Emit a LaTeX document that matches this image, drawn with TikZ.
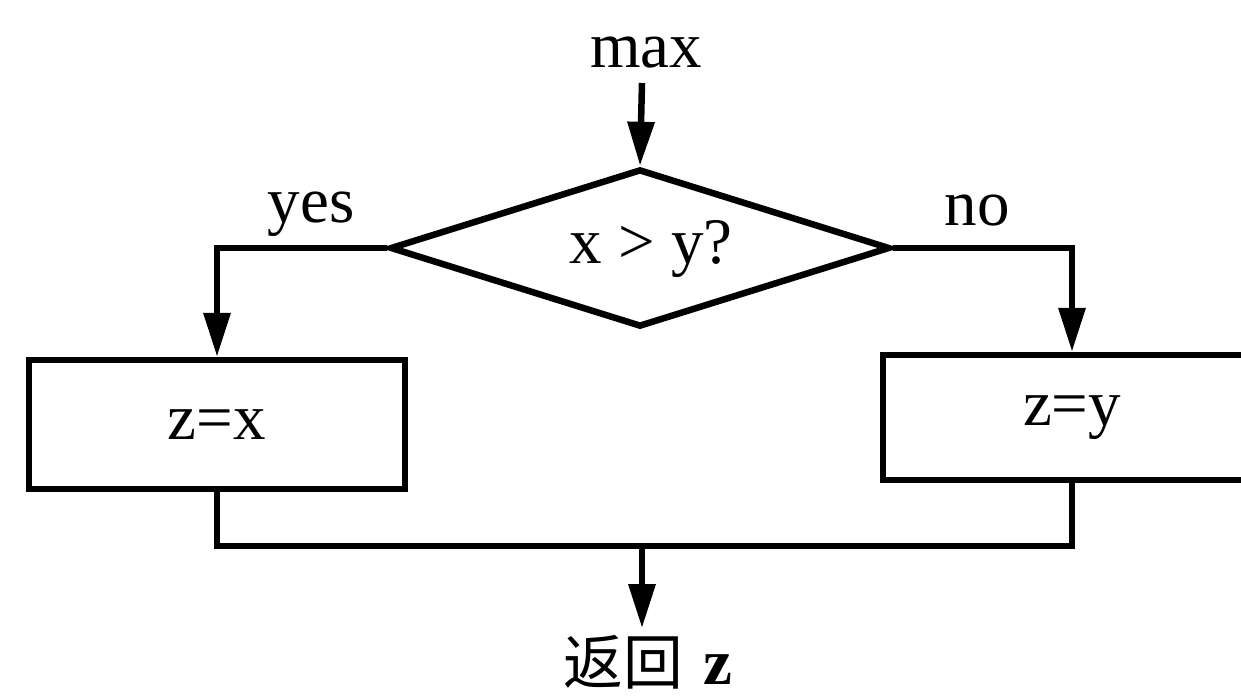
\documentclass[tikz,border=0pt]{standalone}
\usepackage{fontspec}
\setmainfont{Liberation Serif}
\newfontfamily\cjk{Noto Sans CJK SC}
\usetikzlibrary{arrows.meta,shapes.geometric,calc}
\begin{document}
\begin{tikzpicture}[x=0.02cm,y=-0.02cm,
  line width=0.13cm,
  arr/.style={-{Triangle[length=0.88cm,width=0.52cm]}},
  lbl/.style={font=\fontsize{37}{40}\selectfont, inner sep=0pt, anchor=base},
  proc/.style={draw, rectangle, inner sep=0pt, font=\fontsize{37}{40}\selectfont},
  decision/.style={draw, diamond, inner sep=0pt, minimum width=10cm, minimum height=3.16cm}
]
\useasboundingbox (0,0) rectangle (1241,698);
% shapes
\node[decision] (d) at (640,248) {};
\node[proc, minimum width=7.52cm, minimum height=2.58cm] (L) at (217,424.5) {\raisebox{-0.1cm}{z=x}};
\node[proc, minimum width=7.56cm, minimum height=2.5cm] (R) at (1072,417.5) {\raisebox{-0.14cm}{z=y}};
% texts
\node[lbl] (max) at (646,67) {max};
\node[lbl] (yes) at (311,222) {yes};
\node[lbl] (no) at (977,225) {no};
\node[lbl] (q) at (651,263) {x > y?};
\node[lbl] (ret) at (648,684) {{\cjk\fontsize{34}{36}\selectfont 返回}\hspace{12pt}\textbf{z}};
% coordinates
\coordinate (top) at (642,83);
\coordinate (m) at (642,546);
\coordinate (e) at (642,628);
% connectors
\draw[arr] (top) -- (d.north);
\draw[arr] (d.west) -| (L.north);
\draw[arr] (d.east) -| (R.north);
\draw (L.south) |- (m) -| (R.south);
\draw[arr] (m) -- (e);
\end{tikzpicture}
\end{document}
